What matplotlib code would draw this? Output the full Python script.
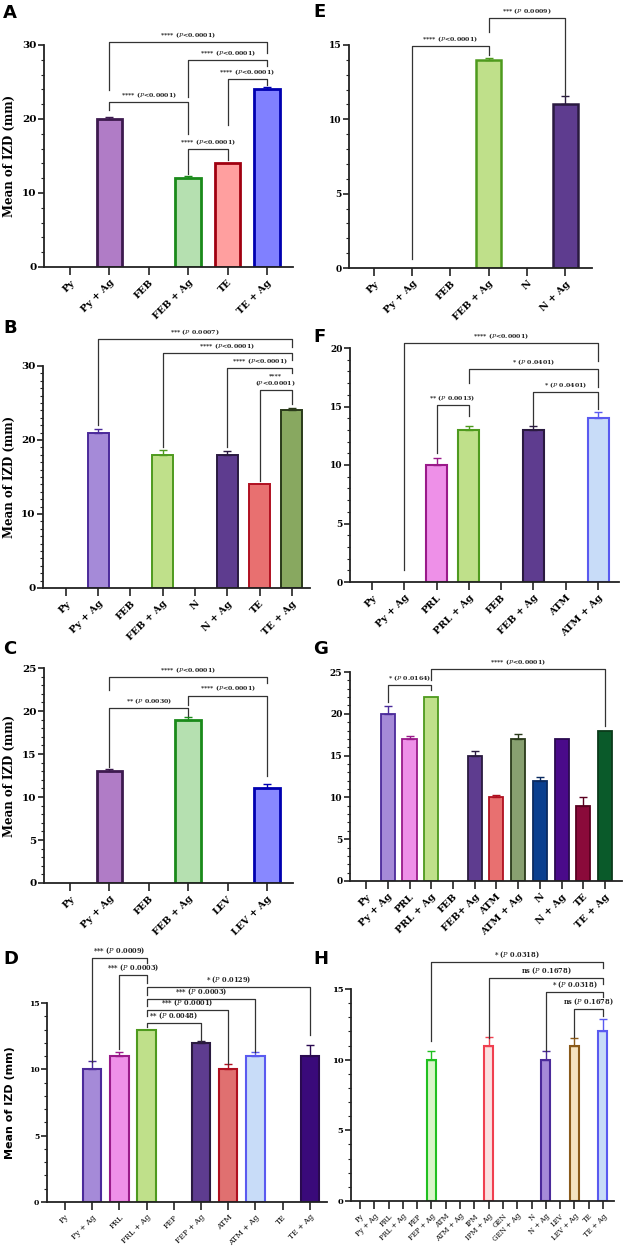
import matplotlib.pyplot as plt
import numpy as np
from matplotlib.ticker import MultipleLocator

plt.rcParams['mathtext.fontset'] = 'dejavuserif'

# ---- data (mean IZD in mm, upper SD, significance brackets) ----
# bracket: (left bar, right bar, height, left leg end, right leg end, label)
a_labels = ['Py', 'Py + Ag', 'FEB', 'FEB + Ag', 'TE', 'TE + Ag']
a_values = [0, 20, 0, 12, 14, 24]
a_errors = [0, 0.3, 0, 0.3, 0, 0.3]
a_brackets = [(1, 5, 30.4, 23.9, 28.9, '**** (P<0.0001)'),
              (3, 5, 28.0, 23.0, 27.1, '**** (P<0.0001)'),
              (4, 5, 25.4, 19.2, 24.6, '**** (P<0.0001)'),
              (1, 3, 22.3, 21.2, 18.0, '**** (P<0.0001)'),
              (3, 4, 15.9, 12.6, 14.5, '**** (P<0.0001)')]

e_labels = ['Py', 'Py + Ag', 'FEB', 'FEB + Ag', 'N', 'N + Ag']
e_values = [0, 0, 0, 14, 0, 11]
e_errors = [0, 0, 0, 0.1, 0, 0.6]
e_brackets = [(1, 3, 14.96, 0.63, 14.3, '**** (P<0.0001)'),
              (3, 5, 16.8, 15.9, 11.6, '*** (P 0.0009)')]

b_labels = ['Py', 'Py + Ag', 'FEB', 'FEB + Ag', 'N', 'N + Ag', 'TE', 'TE + Ag']
b_values = [0, 21, 0, 18, 0, 18, 14, 24]
b_errors = [0, 0.5, 0, 0.6, 0, 0.5, 0, 0.3]
b_brackets = [(1, 7, 33.7, 22.0, 32.6, '*** (P 0.0007)'),
              (3, 7, 31.7, 19.1, 30.8, '**** (P<0.0001)'),
              (5, 7, 29.7, 19.1, 29.0, '**** (P<0.0001)'),
              (6, 7, 26.7, 14.4, 24.9, '****\n(P<0.0001)')]

f_labels = ['Py', 'Py + Ag', 'PRL', 'PRL + Ag', 'FEB', 'FEB + Ag', 'ATM', 'ATM + Ag']
f_values = [0, 0, 10, 13, 0, 13, 0, 14]
f_errors = [0, 0, 0.6, 0.3, 0, 0.3, 0, 0.5]
f_brackets = [(1, 7, 20.4, 1.0, 18.9, '**** (P<0.0001)'),
              (3, 7, 18.2, 17.0, 16.7, '* (P 0.0401)'),
              (5, 7, 16.2, 13.4, 14.8, '* (P 0.0401)'),
              (2, 3, 15.1, 11.0, 14.2, '** (P 0.0013)')]

c_labels = ['Py', 'Py + Ag', 'FEB', 'FEB + Ag', 'LEV', 'LEV + Ag']
c_values = [0, 13, 0, 19, 0, 11]
c_errors = [0, 0.2, 0, 0.3, 0, 0.5]
c_brackets = [(1, 5, 23.9, 22.4, 23.2, '**** (P<0.0001)'),
              (3, 5, 21.8, 20.7, 12.4, '**** (P<0.0001)'),
              (1, 3, 20.3, 13.5, 19.4, '** (P 0.0030)')]

g_labels = ['Py', 'Py + Ag', 'PRL', 'PRL + Ag', 'FEB', 'FEB+ Ag', 'ATM', 'ATM + Ag',
            'N', 'N + Ag', 'TE', 'TE + Ag']
g_values = [0, 20, 17, 22, 0, 15, 10, 17, 12, 17, 9, 18]
g_errors = [0, 0.9, 0.3, 0, 0, 0.5, 0.3, 0.6, 0.5, 0, 1.0, 0]
g_brackets = [(1, 3, 23.4, 21.4, 22.9, '* (P 0.0164)'),
              (3, 11, 25.4, 24.1, 18.5, '**** (P<0.0001)')]

d_labels = ['Py', 'Py + Ag', 'PRL', 'PRL + Ag', 'FEP', 'FEP + Ag', 'ATM', 'ATM + Ag',
            'TE', 'TE + Ag']
d_values = [0, 10, 11, 13, 0, 12, 10, 11, 0, 11]
d_errors = [0, 0.6, 0.3, 0, 0, 0.1, 0.4, 0.3, 0, 0.8]
d_brackets = [(1, 3, 18.4, 10.55, 18.0, '*** (P 0.0009)'),
              (2, 3, 17.1, 11.5, 16.5, '*** (P 0.0003)'),
              (3, 9, 16.2, 15.6, 12.6, '* (P 0.0129)'),
              (3, 7, 15.3, 14.8, 11.3, '*** (P 0.0003)'),
              (3, 6, 14.45, 14.0, 10.4, '*** (P 0.0001)'),
              (3, 5, 13.5, 13.2, 12.1, '** (P 0.0048)')]

h_labels = ['Py', 'Py + Ag', 'PRL', 'PRL + Ag', 'FEP', 'FEP + Ag', 'ATM', 'ATM + Ag',
            'IPM', 'IPM + Ag', 'GEN', 'GEN + Ag', 'N', 'N + Ag', 'LEV', 'LEV + Ag',
            'TE', 'TE + Ag']
h_values = [0, 0, 0, 0, 0, 10, 0, 0, 0, 11, 0, 0, 0, 10, 0, 11, 0, 12]
h_errors = [0, 0, 0, 0, 0, 0.6, 0, 0, 0, 0.6, 0, 0, 0, 0.6, 0, 0.5, 0, 0.9]
h_brackets = [(5, 17, 16.9, 11.3, 16.5, '* (P 0.0318)'),
              (9, 17, 15.75, 11.5, 15.35, 'ns (P 0.1678)'),
              (13, 17, 14.8, 10.6, 14.4, '* (P 0.0318)'),
              (15, 17, 13.6, 11.6, 13.1, 'ns (P 0.1678)')]

# ---- colours (fill, edge) ----
N_ = ('none', 'none')
PY_AG = ('#a58ad8', '#4b2a9a')
PRL = ('#ee90e8', '#9a1a8a')
GREEN = ('#bfe08a', '#4e9a1e')
PURPLE = ('#5e3c8f', '#2a1a40')
RED = ('#e87070', '#b01020')
BLUE_L = ('#c8dcf8', '#5a5af0')

a_colors = [N_, ('#b07cc6', '#3d1a4f'), N_, ('#b5e0b0', '#1a8a1a'),
            ('#ff9f9f', '#a00010'), ('#8080ff', '#0000b0')]
e_colors = [N_, N_, N_, GREEN, N_, PURPLE]
b_colors = [N_, PY_AG, N_, GREEN, N_, PURPLE, RED, ('#88a860', '#2a3a1a')]
f_colors = [N_, N_, PRL, GREEN, N_, PURPLE, N_, BLUE_L]
c_colors = [N_, ('#b07cc6', '#3d1a4f'), N_, ('#b5e0b0', '#1a8a1a'), N_,
            ('#8888ff', '#0000b0')]
g_colors = [N_, PY_AG, PRL, GREEN, N_, PURPLE, RED, ('#88a070', '#2a3a1a'),
            ('#0a3f8f', '#0a2a60'), ('#4a0a8a', '#2a0a50'), ('#8a0a3a', '#5a0020'),
            ('#0a5a2a', '#0a3a1a')]
d_colors = [N_, PY_AG, PRL, GREEN, N_, PURPLE, ('#e07070', '#b01020'), BLUE_L, N_,
            ('#3a0a7a', '#2a0a50')]
h_colors = [N_] * 18
h_colors[5] = ('#d8f5c8', '#20c020')
h_colors[9] = ('#fbe0e0', '#f04050')
h_colors[13] = PY_AG
h_colors[15] = ('#f5e3c0', '#8a5a1a')
h_colors[17] = BLUE_L

W, H = 624, 1253
fig = plt.figure(figsize=(W / 100, H / 100), dpi=100)


def px_axes(left, right, top, bottom):
    return fig.add_axes([left / W, 1 - bottom / H, (right - left) / W, (bottom - top) / H])


def panel(ax, labels, values, errors, colors, brackets, ymax, major, minor, xlim,
          width=0.65, lw=1.4, xfs=7, yfs=7.5, xbold=True, bfs=4.5):
    x = np.arange(len(labels))
    fills = [c[0] for c in colors]
    edges = [c[1] for c in colors]
    ax.bar(x, values, width=width, color=fills, edgecolor=edges, linewidth=lw, zorder=2)
    for xi, v, e, c in zip(x, values, errors, edges):
        if e > 0:
            ax.errorbar(xi, v, yerr=[[0], [e]], fmt='none', ecolor=c, elinewidth=1,
                        capsize=3, capthick=1, zorder=3)
    for i, j, y, yl, yr, txt in brackets:
        ax.plot([i, i, j, j], [yl, y, y, yr], color='#333333', lw=0.9,
                clip_on=False, zorder=4)
        ax.annotate(txt.replace('P', r'$\mathit{P}$'), ((i + j) / 2, y),
                    xytext=(0, 1.5), textcoords='offset points', ha='center',
                    va='bottom', fontsize=bfs, fontweight='bold', family='DejaVu Serif',
                    color='#222222', annotation_clip=False, linespacing=1.1)
    ax.set_xlim(*xlim)
    ax.set_ylim(0, ymax)
    ax.yaxis.set_major_locator(MultipleLocator(major))
    ax.yaxis.set_minor_locator(MultipleLocator(minor))
    ax.set_xticks(x)
    ax.set_xticklabels(labels, rotation=45, ha='right', rotation_mode='anchor',
                       fontsize=xfs, fontweight='bold' if xbold else 'normal',
                       family='DejaVu Serif')
    for t in ax.get_yticklabels():
        t.set_fontsize(yfs)
        t.set_fontweight('bold')
        t.set_family('DejaVu Serif')
    ax.spines[['top', 'right']].set_visible(False)
    for s in ('left', 'bottom'):
        ax.spines[s].set_linewidth(1.3)
        ax.spines[s].set_color('#222222')
    ax.tick_params(axis='x', length=6, width=1.2, color='#222222', pad=2)
    ax.tick_params(axis='y', which='major', length=4, width=1.2, color='#222222', pad=1.5)
    ax.tick_params(axis='y', which='minor', length=2.5, width=0.8, color='#222222')


def ylabel(x, top, bottom, family='DejaVu Serif', size=8.5):
    fig.text(x / W, 1 - (top + bottom) / 2 / H, 'Mean of IZD (mm)', rotation=90,
             ha='center', va='center', fontsize=size, fontweight='bold', family=family)


def letter(x, y, s):
    fig.text(x / W, 1 - y / H, s, fontsize=13, fontweight='bold', family='DejaVu Sans',
             ha='left', va='center')


# A
ax = px_axes(44, 293, 45, 267)
panel(ax, a_labels, a_values, a_errors, a_colors, a_brackets, 30, 10, 2, (-0.66, 5.66),
      lw=2.0)
ylabel(9, 45, 267)
letter(3, 13, 'A')

# E
ax = px_axes(349, 592, 45, 268)
panel(ax, e_labels, e_values, e_errors, e_colors, e_brackets, 15, 5, 1, (-0.65, 5.7),
      lw=1.8, yfs=6.5)
letter(313, 12, 'E')

# B
ax = px_axes(43, 310, 366, 588)
panel(ax, b_labels, b_values, b_errors, b_colors, b_brackets, 30, 10, 1, (-0.71, 7.56),
      lw=1.4)
ylabel(9, 366, 588)
letter(3, 328, 'B')

# F
ax = px_axes(350, 619, 348, 582)
panel(ax, f_labels, f_values, f_errors, f_colors, f_brackets, 20, 5, 1, (-0.68, 7.65),
      lw=1.5, yfs=6.5)
letter(313, 337, 'F')

# C
ax = px_axes(44, 293, 668, 883)
panel(ax, c_labels, c_values, c_errors, c_colors, c_brackets, 25, 5, 1, (-0.66, 5.66),
      lw=2.0)
ylabel(9, 668, 883)
letter(3, 649, 'C')

# G
ax = px_axes(350, 622, 672, 881)
panel(ax, g_labels, g_values, g_errors, g_colors, g_brackets, 25, 5, 1, (-0.74, 11.78),
      lw=1.3, yfs=6.5)
letter(313, 649, 'G')

# D
ax = px_axes(47, 327, 1003, 1202)
panel(ax, d_labels, d_values, d_errors, d_colors, d_brackets, 15, 5, 1, (-0.66, 9.63),
      width=0.68, lw=1.5, xfs=5.5, yfs=5.5, xbold=False, bfs=4.8)
ylabel(10, 1003, 1202, family='DejaVu Sans', size=8)
letter(3, 959, 'D')

# H
ax = px_axes(351, 614, 989, 1201)
panel(ax, h_labels, h_values, h_errors, h_colors, h_brackets, 15, 5, 1, (-0.63, 17.77),
      width=0.63, lw=1.5, xfs=5, yfs=6, xbold=False, bfs=4.8)
letter(313, 959, 'H')

fig.savefig('out.png', dpi=100)
